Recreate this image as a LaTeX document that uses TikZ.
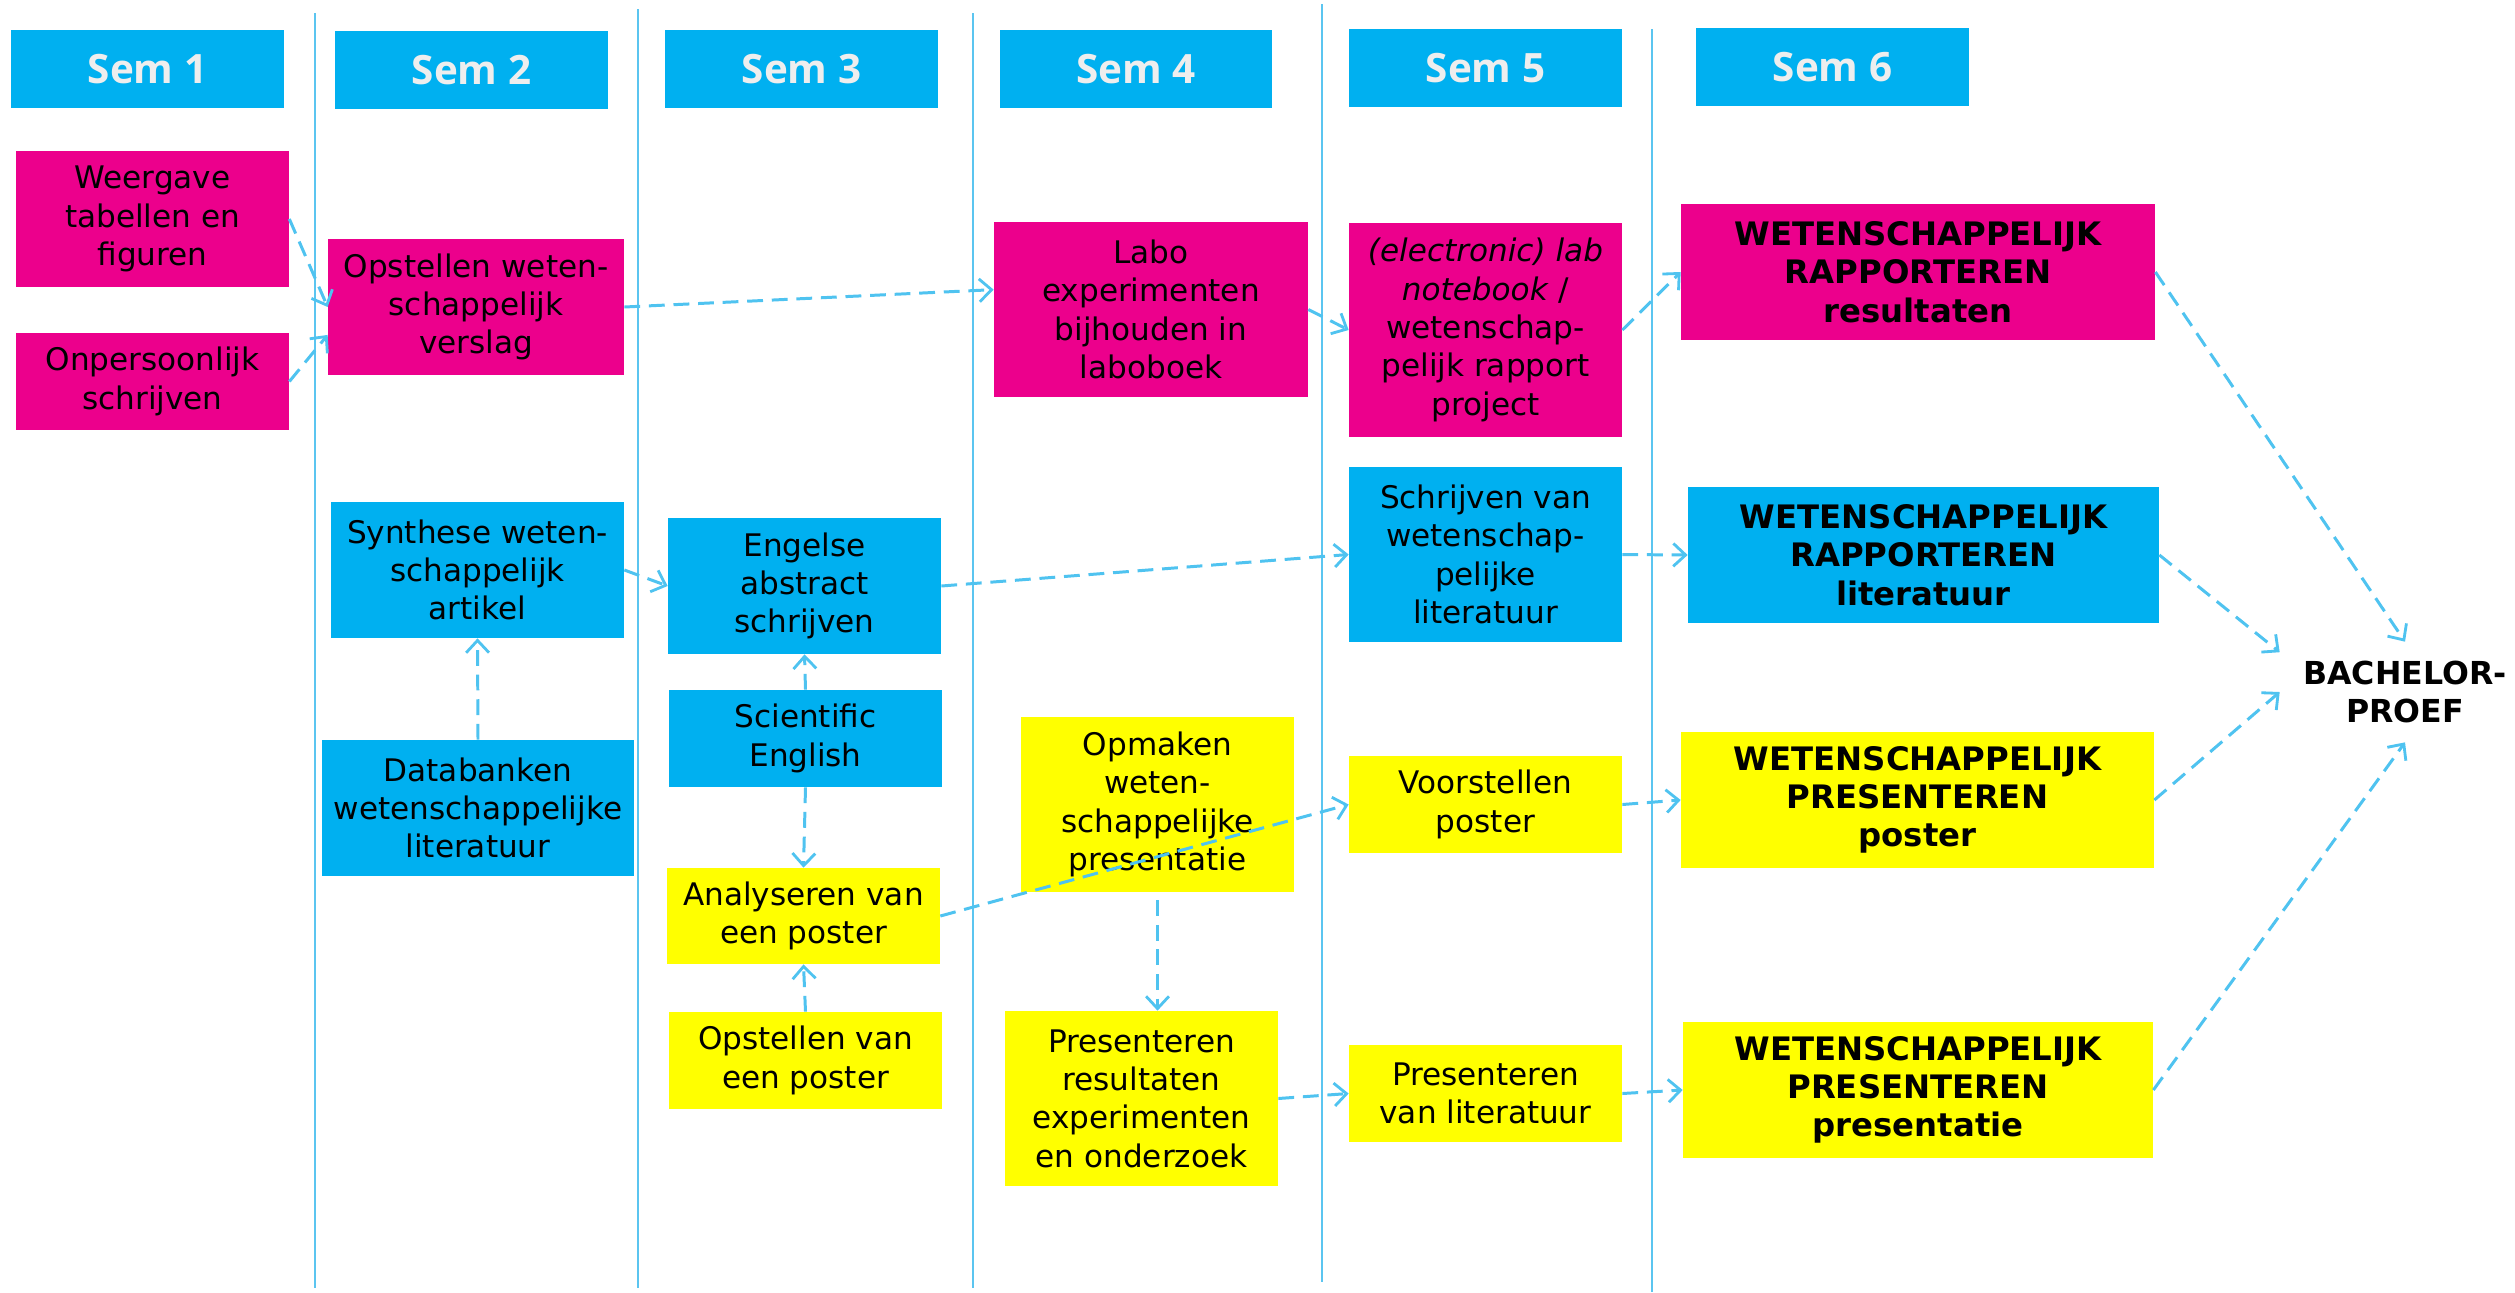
\documentclass[tikz,border=0pt]{standalone}
\usepackage{fontspec}
\setmainfont{DejaVu Sans}
\newfontfamily\hdfont{Open Sans}
\usetikzlibrary{arrows.meta}
\definecolor{mag}{HTML}{EC008C}
\definecolor{cya}{HTML}{00B0F0}
\definecolor{yel}{HTML}{FFFF00}
\definecolor{arr}{HTML}{4FC3F0}
\definecolor{vln}{HTML}{5BC5F0}
\definecolor{hdtxt}{HTML}{EEEEEE}
\newcommand\mkbox[7]{\node[#6, minimum width={(#4-#2)*0.02cm}, minimum height={(#5-#3)*0.02cm}] (#1) at ({(#2+#4)/2},{(#3+#5)/2}) {#7};}
\begin{document}
\begin{tikzpicture}[x=0.02cm,y=-0.02cm,
  box/.style={rectangle, inner sep=0pt, align=center, text=black, font=\fontsize{17.7}{21.8}\selectfont},
  magbox/.style={box, fill=mag},
  cyabox/.style={box, fill=cya},
  yelbox/.style={box, fill=yel},
  bold/.style={font=\bfseries\fontsize{18.4}{21.8}\selectfont},
  hdr/.style={rectangle, fill=cya, inner sep=0pt, text=hdtxt, font=\hdfont\bfseries\fontsize{23}{28}\selectfont},
  conn/.style={draw=arr, line width=1.7pt, dash pattern=on 9pt off 5pt, -{Straight Barb[length=7pt,width=13pt,line width=1.6pt]}},
  sepline/.style={draw=vln, line width=1.1pt}]
\useasboundingbox (0,0) rectangle (2515,1292);
\fill[white] (0,0) rectangle (2515,1292);
% separators
\draw[sepline] (315,13) -- (315,1288);
\draw[sepline] (638,9) -- (638,1288);
\draw[sepline] (973,13) -- (973,1288);
\draw[sepline] (1322,4) -- (1322,1282);
\draw[sepline] (1652,29) -- (1652,1292);
% headers
\mkbox{h1}{11}{30}{284}{108}{hdr}{Sem 1}
\mkbox{h2}{335}{31}{608}{109}{hdr}{Sem 2}
\mkbox{h3}{665}{30}{938}{108}{hdr}{Sem 3}
\mkbox{h4}{1000}{30}{1272}{108}{hdr}{Sem 4}
\mkbox{h5}{1349}{29}{1622}{107}{hdr}{Sem 5}
\mkbox{h6}{1696}{28}{1969}{106}{hdr}{Sem 6}
% magenta
\mkbox{wg}{16}{151}{289}{287}{magbox}{Weergave\\tabellen en\\figuren}
\mkbox{on}{16}{333}{289}{430}{magbox}{Onpersoonlijk\\schrijven}
\mkbox{opst}{328}{239}{624}{375}{magbox}{Opstellen weten-\\schappelijk\\verslag}
\mkbox{labo}{994}{222}{1308}{397}{magbox}{Labo\\experimenten\\bijhouden in\\laboboek}
\mkbox{elec}{1349}{223}{1622}{437}{magbox}{\textit{(electronic) lab}\\\textit{notebook} /\\wetenschap-\\pelijk rapport\\project}
\mkbox{wrr}{1681}{204}{2155}{340}{magbox,bold}{WETENSCHAPPELIJK\\RAPPORTEREN\\resultaten}
% cyan
\mkbox{syn}{331}{502}{624}{638}{cyabox}{Synthese weten-\\schappelijk\\artikel}
\mkbox{eng}{668}{518}{941}{654}{cyabox}{Engelse\\abstract\\schrijven}
\mkbox{sci}{669}{690}{942}{787}{cyabox}{Scientific\\English}
\mkbox{dat}{322}{740}{634}{876}{cyabox}{Databanken\\wetenschappelijke\\literatuur}
\mkbox{schr}{1349}{467}{1622}{642}{cyabox}{Schrijven van\\wetenschap-\\pelijke\\literatuur}
\mkbox{wrl}{1688}{487}{2159}{623}{cyabox,bold}{WETENSCHAPPELIJK\\RAPPORTEREN\\literatuur}
% yellow
\mkbox{opm}{1021}{717}{1294}{892}{yelbox}{Opmaken\\weten-\\schappelijke\\presentatie}
\mkbox{ana}{667}{868}{940}{964}{yelbox}{Analyseren van\\een poster}
\mkbox{opp}{669}{1012}{942}{1109}{yelbox}{Opstellen van\\een poster}
\mkbox{pres}{1005}{1011}{1278}{1186}{yelbox}{Presenteren\\resultaten\\experimenten\\en onderzoek}
\mkbox{voor}{1349}{756}{1622}{853}{yelbox}{Voorstellen\\poster}
\mkbox{wpp}{1681}{732}{2154}{868}{yelbox,bold}{WETENSCHAPPELIJK\\PRESENTEREN\\poster}
\mkbox{prl}{1349}{1045}{1622}{1142}{yelbox}{Presenteren\\van literatuur}
\mkbox{wpr}{1683}{1022}{2153}{1158}{yelbox,bold}{WETENSCHAPPELIJK\\PRESENTEREN\\presentatie}
% bachelorproef
\node[rectangle, inner sep=0pt, minimum width=5cm, minimum height=2cm, align=center, font=\bfseries\fontsize{18}{21.8}\selectfont] (bp) at (2405,692) {BACHELOR-\\PROEF};
% connectors
\draw[conn] (wg.east) -- (opst.west);
\draw[conn] (on.east) -- ([yshift=-15.9pt]opst.west);
\draw[conn] (opst.east) -- ([yshift=11.3pt]labo.west);
\draw[conn] (labo.east) -- (elec.west);
\draw[conn] (elec.east) -- (wrr.west);
\draw[conn] (syn.east) -- (eng.west);
\draw[conn] (eng.east) -- (schr.west);
\draw[conn] (schr.east) -- (wrl.west);
\draw[conn] (dat.north) -- (syn.south);
\draw[conn] (sci.north) -- (eng.south);
\draw[conn] (sci.south) -- (ana.north);
\draw[conn] (opp.north) -- (ana.south);
\draw[conn] (ana.east) -- (voor.west);
\draw[conn, shorten <=4.5pt] (opm.south) -- (opm.south |- pres.north);
\draw[conn] (pres.east) -- (prl.west);
\draw[conn] (voor.east) -- (wpp.west);
\draw[conn] (prl.east) -- (wpr.west);
\draw[conn] (wrr.east) -- (bp.north);
\draw[conn] (wrl.east) -- ([yshift=-6pt]bp.north west);
\draw[conn] (wpp.east) -- (bp.west);
\draw[conn] (wpr.east) -- (bp.south);
\end{tikzpicture}
\end{document}
